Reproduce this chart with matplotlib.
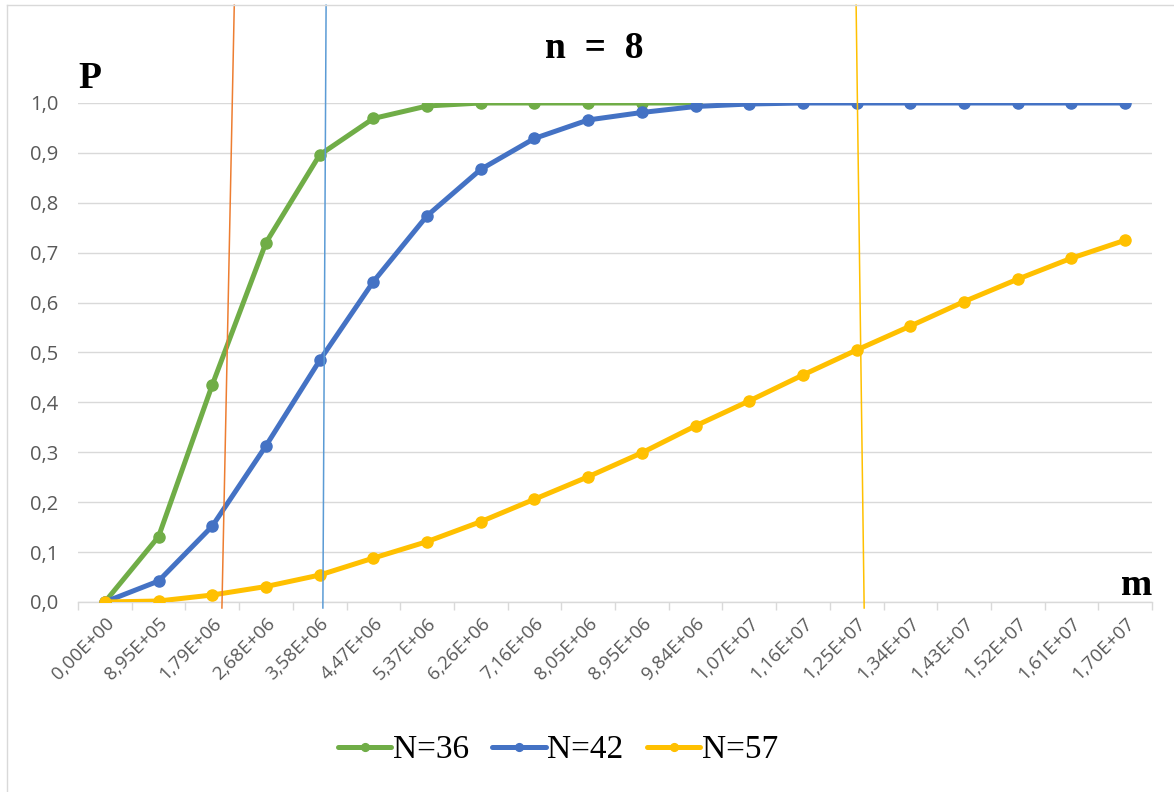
import matplotlib
matplotlib.use("Agg")
import matplotlib.pyplot as plt
from matplotlib.lines import Line2D
import numpy as np

# category labels along m (step 8.95E+05)
m_labels = ["0,00E+00", "8,95E+05", "1,79E+06", "2,68E+06", "3,58E+06",
            "4,47E+06", "5,37E+06", "6,26E+06", "7,16E+06", "8,05E+06",
            "8,95E+06", "9,84E+06", "1,07E+07", "1,16E+07", "1,25E+07",
            "1,34E+07", "1,43E+07", "1,52E+07", "1,61E+07", "1,70E+07"]

p_n36 = [0.0, 0.131, 0.435, 0.720, 0.896, 0.969, 0.994, 1.0, 1.0, 1.0,
         1.0, 1.0]
p_n42 = [0.0, 0.042, 0.152, 0.313, 0.484, 0.642, 0.774, 0.867, 0.929, 0.966,
         0.981, 0.993, 0.998, 1.0, 1.0, 1.0, 1.0, 1.0, 1.0, 1.0]
p_n57 = [0.0, 0.002, 0.014, 0.031, 0.054, 0.088, 0.121, 0.161, 0.206, 0.251,
         0.299, 0.353, 0.403, 0.455, 0.505, 0.553, 0.602, 0.647, 0.689, 0.725]

# hand-drawn marker lines (category position at top, at bottom)
orange_mark = [(2.41, 1.196), (2.18, -0.012)]
blue_mark = [(4.12, 1.196), (4.06, -0.012)]
yellow_mark = [(13.99, 1.196), (14.14, -0.012)]

GREEN = "#70AD47"
BLUE = "#4472C4"
YELLOW = "#FFC000"
SERIF = ["Liberation Serif", "DejaVu Serif"]
SANS = ["Open Sans", "DejaVu Sans"]

fig = plt.figure(figsize=(11.74, 7.92), dpi=100)
ax = fig.add_axes([78 / 1174, 1 - 602 / 792, (1152 - 78) / 1174, (602 - 103) / 792])

for vals, col, name in [(p_n36, GREEN, "N=36"), (p_n42, BLUE, "N=42"), (p_n57, YELLOW, "N=57")]:
    ax.plot(np.arange(len(vals)), vals, color=col, lw=3.6, marker="o", ms=8,
            solid_capstyle="round", label=name, zorder=3)

for pts, col in [(orange_mark, "#ED7D31"), (blue_mark, "#5B9BD5"), (yellow_mark, YELLOW)]:
    xs, ys = zip(*pts)
    ax.plot(xs, ys, color=col, lw=1.1, clip_on=False, zorder=4)

ax.set_xlim(-0.5, len(m_labels) - 0.5)
ax.set_ylim(0, 1.0)
ax.set_yticks(np.arange(0, 1.01, 0.1))
ax.set_yticklabels([f"{v:.1f}".replace(".", ",") for v in np.arange(0, 1.01, 0.1)],
                   family=SANS, fontsize=14.5, color="#595959")
ax.set_xticks(np.arange(len(m_labels)))
ax.set_xticklabels(m_labels, rotation=45, ha="right", rotation_mode="anchor",
                   family=SANS, fontsize=13.5, color="#595959")
ax.set_xticks(np.arange(len(m_labels) + 1) - 0.5, minor=True)
ax.tick_params(axis="x", which="major", length=0, pad=9)
ax.tick_params(axis="x", which="minor", length=6, color="#D9D9D9", width=1)
ax.tick_params(axis="y", length=0, pad=14)

ax.grid(axis="y", color="#D9D9D9", lw=1)
ax.set_axisbelow(True)
for side in ["left", "right", "top"]:
    ax.spines[side].set_visible(False)
ax.spines["bottom"].set_color("#D9D9D9")
ax.spines["bottom"].set_linewidth(1)

fig.text(594 / 1174, 1 - 48 / 792, "n  =  8", ha="center", va="center",
         family=SERIF, fontsize=27, fontweight="bold")
fig.text(78 / 1174, 1 - 78 / 792, "P", ha="left", va="center",
         family=SERIF, fontsize=27, fontweight="bold")
fig.text(1152 / 1174, 1 - 595 / 792, "m", ha="right", va="baseline",
         family=SERIF, fontsize=27, fontweight="bold")

leg = fig.legend(loc="center", bbox_to_anchor=(558 / 1174, 1 - 750 / 792), ncol=3,
                 frameon=False, prop={"family": SERIF, "size": 24},
                 handlelength=1.6, handletextpad=0.05, columnspacing=0.7,
                 markerscale=0.7)

# chart border
fig.add_artist(Line2D([7 / 1174, 7 / 1174], [0, 1 - 5 / 792], color="#D9D9D9", lw=1))
fig.add_artist(Line2D([7 / 1174, 1], [1 - 5 / 792, 1 - 5 / 792], color="#D9D9D9", lw=1))

fig.savefig("out.png", dpi=100)
